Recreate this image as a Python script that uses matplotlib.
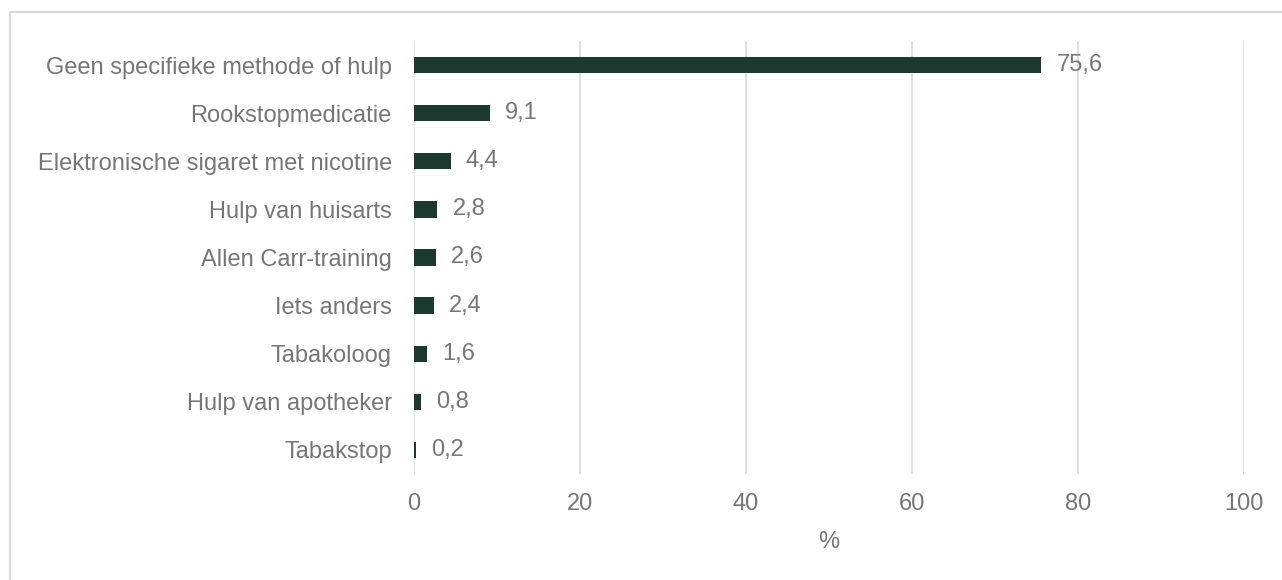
import matplotlib
matplotlib.use("Agg")
import matplotlib.pyplot as plt
from matplotlib.patches import Rectangle

categories = [
    "Geen specifieke methode of hulp",
    "Rookstopmedicatie",
    "Elektronische sigaret met nicotine",
    "Hulp van huisarts",
    "Allen Carr-training",
    "Iets anders",
    "Tabakoloog",
    "Hulp van apotheker",
    "Tabakstop",
]
values = [75.6, 9.1, 4.4, 2.8, 2.6, 2.4, 1.6, 0.8, 0.2]
xticks = [0, 20, 40, 60, 80, 100]

plt.rcParams["font.family"] = ["Liberation Sans", "DejaVu Sans"]
text_color = "#767676"
bar_color = "#1b3a2d"
grid_color = "#d9d9d9"
fs = 17

W, H = 1282, 580
fig = plt.figure(figsize=(W / 100, H / 100), dpi=100)

# outer chart frame (right and bottom edges run off the canvas)
fig.patches.append(Rectangle((10 / W, -0.1), 1.2, 1 - 12 / H + 0.1,
                             transform=fig.transFigure, fill=False,
                             edgecolor=grid_color, linewidth=1.5))

ax = fig.add_axes([414 / W, 1 - 474 / H, (1244 - 414) / W, (474 - 41) / H])
y = list(range(len(categories)))
ax.barh(y, values, height=0.34, color=bar_color, zorder=3)
ax.set_ylim(len(categories) - 0.5, -0.5)
ax.set_xlim(0, 100)
ax.set_xticks(xticks)
ax.set_xticklabels([str(t) for t in xticks])
ax.set_yticks(y)
ax.set_yticklabels(categories)

for yi, v in zip(y, values):
    ax.annotate(f"{v:.1f}".replace(".", ","), xy=(v, yi), xytext=(11, 0),
                textcoords="offset points", va="center", ha="left",
                fontsize=fs, color=text_color, zorder=4)

ax.grid(axis="x", color=grid_color, linewidth=1.2, zorder=0)
for s in ax.spines.values():
    s.set_visible(False)
ax.tick_params(axis="both", length=0, labelsize=fs, labelcolor=text_color)
ax.tick_params(axis="y", pad=16)
ax.tick_params(axis="x", pad=14)
ax.set_xlabel("%", fontsize=fs, color=text_color, labelpad=11)

fig.savefig("out.png", dpi=100)
